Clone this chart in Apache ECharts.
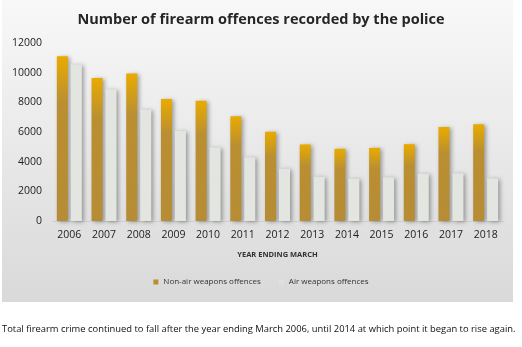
<!DOCTYPE html>
<html><head><meta charset="utf-8">
<script src="https://cdn.jsdelivr.net/npm/echarts@6/dist/echarts.min.js"></script>
<style>html,body{margin:0;padding:0;background:#fff}#c{width:522px;height:347px}</style>
</head><body><div id="c"></div>
<script>
const categories = ['2006','2007','2008','2009','2010','2011','2012','2013','2014','2015','2016','2017','2018'];
const nonAir = [11100, 9640, 9940, 8230, 8100, 7070, 6010, 5160, 4870, 4930, 5180, 6330, 6530];
const air = [10550, 8880, 7520, 6060, 4960, 4290, 3520, 2980, 2850, 2940, 3180, 3210, 2870];
const yTicks = [0, 2000, 4000, 6000, 8000, 10000, 12000];
const titleText = 'Number of firearm offences recorded by the police';
const xName = 'YEAR ENDING MARCH';
const seriesNames = ['Non-air weapons offences', 'Air weapons offences'];
const footnote = 'Total firearm crime continued to fall after the year ending March 2006, until 2014 at which point it began to rise again.';

const chart = echarts.init(document.getElementById('c'), null, {renderer: 'canvas'});
const font = '"Open Sans", sans-serif';
chart.setOption({
  animation: false,
  graphic: [
    {type: 'rect', z: -10, silent: true, shape: {x: 2, y: 0, width: 511, height: 302},
     style: {fill: new echarts.graphic.LinearGradient(0, 0, 0, 1, [{offset: 0, color: '#f8f8f8'}, {offset: 1, color: '#d9d9d9'}])}},
    {type: 'text', left: 2, top: 325, style: {text: footnote, font: '9.4px ' + font, fill: '#111'}}
  ],
  title: {text: titleText, left: 'center', top: 7,
    textStyle: {fontFamily: font, fontSize: 14.5, fontWeight: 'bold', color: '#262626'}},
  legend: {data: [{name: seriesNames[0], itemStyle: {color: '#b8902f'}}, {name: seriesNames[1], itemStyle: {color: '#e0e1dd'}}],
    icon: 'rect', bottom: 56, left: 'center', itemWidth: 5, itemHeight: 5, itemGap: 18,
    textStyle: {fontFamily: font, fontSize: 8, color: '#333'}},
  grid: {left: 52, right: 19, top: 43, bottom: 126},
  xAxis: {type: 'category', data: categories, name: xName, nameLocation: 'middle', nameGap: 30,
    nameTextStyle: {fontFamily: font, fontSize: 7.5, fontWeight: 'bold', color: '#333'},
    axisLine: {lineStyle: {color: '#d0d0d0'}}, axisTick: {show: false},
    axisLabel: {fontFamily: font, fontSize: 10.5, color: '#222', margin: 9}},
  yAxis: {type: 'value', min: yTicks[0], max: yTicks[yTicks.length - 1], interval: 2000,
    splitLine: {show: false}, axisLine: {show: false}, axisTick: {show: false},
    axisLabel: {fontFamily: font, fontSize: 10.5, color: '#222', margin: 10, formatter: v => String(v)}},
  series: [
    {name: seriesNames[0], type: 'bar', data: nonAir, barWidth: 11, barGap: '27%',
     itemStyle: {color: new echarts.graphic.LinearGradient(0, 0, 0, 1, [{offset: 0, color: '#e9ab00'}, {offset: 0.28, color: '#ba8f31'}, {offset: 1, color: '#b68c35'}]),
       shadowColor: 'rgba(0,0,0,0.35)', shadowBlur: 4, shadowOffsetX: 2, shadowOffsetY: 1}},
    {name: seriesNames[1], type: 'bar', data: air, barWidth: 11,
     itemStyle: {color: '#e3e5e0', shadowColor: 'rgba(0,0,0,0.35)', shadowBlur: 4, shadowOffsetX: 2, shadowOffsetY: 1}}
  ]
});
</script></body></html>
